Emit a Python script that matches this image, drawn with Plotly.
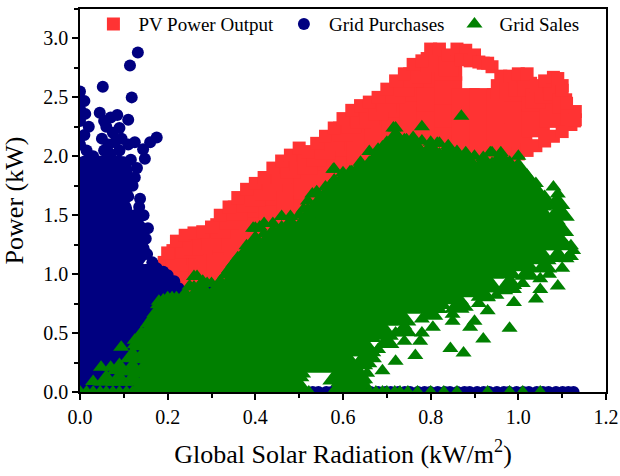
import plotly.graph_objects as go

# ------------------------------------------------------------------ data
# PV Power Output (kW) vs global solar radiation (kW/m2)
pv_top = [(0.16,1.03),(0.18,1.06),(0.20,1.18),(0.22,1.28),(0.24,1.33),(0.26,1.35),(0.28,1.36),
          (0.30,1.40),(0.32,1.50),(0.34,1.57),(0.36,1.65),(0.38,1.72),(0.40,1.77),(0.42,1.82),
          (0.44,1.90),(0.46,1.96),(0.48,2.01),(0.50,2.07),(0.52,2.04),(0.54,2.11),(0.56,2.17),
          (0.58,2.24),(0.60,2.32),(0.62,2.39),(0.64,2.43),(0.66,2.46),(0.68,2.50),(0.70,2.57),
          (0.72,2.64),(0.74,2.70),(0.76,2.78),(0.78,2.81),(0.80,2.91),(0.82,2.91),(0.84,2.86),
          (0.86,2.91),(0.88,2.90),(0.90,2.86),(0.92,2.79),(0.94,2.76),(0.96,2.68),(0.98,2.68),
          (1.00,2.70),(1.02,2.70),(1.04,2.60),(1.06,2.64),(1.08,2.67),(1.10,2.56),(1.12,2.36),
          (0.87,2.82),(0.89,2.81),(0.91,2.80),(0.93,2.79),
          (0.98,1.99),(1.00,2.02),(1.02,2.05),(1.04,2.09),(1.06,2.13),(1.08,2.17),(1.10,2.21),
          (1.12,2.27),(1.13,2.31),(1.13,2.38),(1.11,2.45),(1.10,2.60),(1.09,2.66),
          (0.17,0.92),(0.19,0.90),(0.21,0.92),(0.26,0.90),(0.30,0.90),(0.33,0.93)]
pv_mid = [(0.16,0.94),(0.18,0.95),(0.20,1.07),(0.22,1.17),(0.24,1.22),(0.26,1.24),(0.28,1.25),
          (0.30,1.29),(0.32,1.39),(0.34,1.46),(0.36,1.54),(0.38,1.61),(0.40,1.66),(0.42,1.71),
          (0.44,1.79),(0.46,1.85),(0.48,1.90),(0.50,1.96),(0.52,1.93),(0.54,2.00),(0.56,2.06),
          (0.58,2.13),(0.60,2.21),(0.62,2.28),(0.64,2.32),(0.66,2.35),(0.68,2.39),(0.70,2.46),
          (0.72,2.53),(0.74,2.59),(0.76,2.67),(0.78,2.70),(0.80,2.80),(0.82,2.80),(0.84,2.76),
          (0.96,2.57),(0.98,2.57),(1.00,2.59),(1.02,2.59),(1.04,2.49),(1.06,2.53),(1.08,2.56),
          (1.10,2.45),(1.12,2.33)]
pv_core_x = [0.20, 0.24, 0.28, 0.32, 0.36, 0.40, 0.44, 0.48, 0.52, 0.56, 0.60, 0.64,
             0.68, 0.72, 0.76, 0.80, 0.84, 0.88, 0.92, 0.96, 1.00, 1.04, 1.08]
pv_core_y = [[0.93], [0.94, 1.14], [0.90, 1.05, 1.25], [0.92, 1.10, 1.30], [1.05, 1.25, 1.45],
             [1.20, 1.40, 1.60], [1.30, 1.50, 1.70], [1.45, 1.65, 1.85], [1.55, 1.75, 1.95],
             [1.60, 1.80, 2.00], [1.75, 1.92, 2.12], [1.86, 2.06, 2.26], [1.95, 2.15, 2.35],
             [2.05, 2.25, 2.45], [2.18, 2.38, 2.58], [2.10, 2.30, 2.50, 2.70],
             [2.16, 2.36, 2.56, 2.76], [2.06, 2.26, 2.46], [2.06, 2.26, 2.46], [2.06, 2.26, 2.46],
             [2.16, 2.38, 2.58], [2.28, 2.50], [2.36]]

# Grid Purchases (kW)
gp_core_x = [0.015, 0.05, 0.085, 0.12, 0.155, 0.19]
gp_core_y = [[0.10, 0.28, 0.46, 0.64, 0.82, 1.00, 1.18, 1.36, 1.54, 1.72, 1.88],
             [0.10, 0.28, 0.46, 0.64, 0.82, 1.00, 1.18, 1.36, 1.54, 1.72, 1.88],
             [0.10, 0.28, 0.46, 0.64, 0.82, 1.00, 1.18, 1.36, 1.54, 1.72, 1.88],
             [0.10, 0.28, 0.46, 0.64, 0.82, 1.00, 1.18, 1.36],
             [0.10, 0.28, 0.46, 0.64, 0.82, 0.96],
             [0.70, 0.84]]
gp_pts = [(0.0,2.55),(0.01,2.47),(0.0,2.40),(0.012,2.36),(0.0,2.30),(0.02,2.25),(0.01,2.18),
          (0.0,2.10),(0.015,2.05),(0.03,2.00),(0.045,2.37),(0.055,2.30),(0.07,2.33),(0.085,2.35),
          (0.06,2.25),(0.075,2.20),(0.09,2.24),(0.11,2.31),(0.05,2.15),(0.065,2.10),(0.08,2.12),
          (0.095,2.15),(0.055,2.05),(0.07,2.02),(0.09,2.05),(0.11,2.10),(0.125,2.12),(0.144,2.06),
          (0.16,2.12),(0.175,2.16),(0.148,1.98),(0.116,1.97),(0.10,1.95),(0.08,1.95),(0.045,1.95),
          (0.03,1.92),(0.13,1.90),(0.118,2.50),(0.052,2.59),(0.114,2.77),(0.132,2.88),
          (0.125,1.82),(0.12,1.75),(0.137,1.64),(0.135,1.57),(0.145,1.50),(0.155,1.39),
          (0.15,1.30),(0.145,1.22),(0.153,1.17),(0.165,1.10),(0.175,1.05),(0.19,1.02),
          (0.20,0.99),(0.215,0.94),(0.225,0.88),(0.235,0.83),(0.30,0.88),(0.29,0.82),(0.31,0.75),
          (0.25,0.58),(0.167,0.33),(0.11,1.66),(0.11,1.80),(0.125,1.50),(0.13,1.42)]
gp_zero_x = [0.50,0.513,0.531,0.544,0.562,0.574,0.59,0.607,0.618,0.636,0.651,0.663,0.68,
             0.697,0.709,0.726,0.741,0.753,0.771,0.786,0.799,0.816,0.832,0.844,0.861,0.877,
             0.889,0.906,0.921,0.934,0.951,0.967,0.979,0.996,1.011,1.024,1.042,1.056,1.069,
             1.086,1.101,1.114,1.126]

# Grid Sales (kW)
gs_core_x = [0.16, 0.20, 0.24, 0.28, 0.32, 0.36, 0.40, 0.44, 0.48, 0.52, 0.56, 0.60, 0.64,
             0.68, 0.72, 0.76, 0.80, 0.84, 0.88, 0.92, 0.96, 1.00, 1.04, 1.08]
gs_core_y = [[0.08,0.20,0.32,0.44],
             [0.08,0.20,0.32,0.44,0.56,0.68],
             [0.08,0.20,0.32,0.44,0.56,0.68,0.74],
             [0.08,0.20,0.32,0.44,0.56,0.68,0.80],
             [0.08,0.20,0.32,0.44,0.56,0.68,0.80,0.84],
             [0.08,0.20,0.32,0.44,0.56,0.68,0.80,0.92,1.04],
             [0.08,0.20,0.32,0.44,0.56,0.68,0.80,0.92,1.04,1.16,1.22],
             [0.08,0.20,0.32,0.44,0.56,0.68,0.80,0.92,1.04,1.16,1.28],
             [0.08,0.20,0.32,0.44,0.56,0.68,0.80,0.92,1.04,1.16,1.28,1.36],
             [0.26,0.38,0.50,0.62,0.74,0.86,0.98,1.10,1.22,1.34,1.42],
             [0.24,0.36,0.48,0.60,0.72,0.84,0.96,1.08,1.20,1.32,1.44,1.56,1.60],
             [0.14,0.26,0.38,0.50,0.62,0.74,0.86,0.98,1.10,1.22,1.34,1.46,1.58,1.70,1.74],
             [0.38,0.50,0.62,0.74,0.86,0.98,1.10,1.22,1.34,1.46,1.58,1.70,1.82,1.84],
             [0.52,0.64,0.76,0.88,1.00,1.12,1.24,1.36,1.48,1.60,1.72,1.84,1.94],
             [0.64,0.76,0.88,1.00,1.12,1.24,1.36,1.48,1.60,1.72,1.84,1.96,2.08,2.10],
             [0.74,0.86,0.98,1.10,1.22,1.34,1.46,1.58,1.70,1.82,1.94,2.04],
             [0.78,0.90,1.02,1.14,1.26,1.38,1.50,1.62,1.74,1.86,1.98,2.00],
             [0.82,0.94,1.06,1.18,1.30,1.42,1.54,1.66,1.78,1.90,1.98],
             [0.88,1.00,1.12,1.24,1.36,1.48,1.60,1.72,1.84,1.92],
             [0.92,1.04,1.16,1.28,1.40,1.52,1.64,1.76,1.88],
             [1.04,1.16,1.28,1.40,1.52,1.64,1.76,1.88,1.92],
             [1.10,1.22,1.34,1.46,1.58,1.70,1.82,1.84],
             [1.16,1.28,1.40,1.52,1.64],
             [1.28,1.40]]
gs_mid = [(0.06,0.10),(0.09,0.10),(0.09,0.20),(0.12,0.10),(0.12,0.20),(0.12,0.30),(0.15,0.10),
          (0.15,0.20),(0.15,0.30),(0.15,0.40),(0.15,0.48),(0.18,0.30),(0.18,0.40),(0.18,0.50),
          (0.18,0.60),(0.18,0.68),(0.21,0.50),(0.21,0.60),(0.21,0.70),(0.21,0.76),(0.24,0.60),
          (0.24,0.70),(0.24,0.78),(0.27,0.75),(0.27,0.85),(0.30,0.78),(0.34,0.90),(0.38,1.10),
          (0.60,0.06),(0.61,0.14),(0.63,0.12),(0.64,0.24),(0.66,0.30),(0.70,0.42),(0.74,0.52),
          (0.80,0.66),(0.86,0.72),(0.92,0.82),(0.98,0.92),(1.02,1.00),(1.06,1.06),(1.09,1.15),
          (1.10,1.50),(1.09,1.60),(0.625,0.05),(0.64,0.12)]
gs_top = [(0.125,0.40),(0.14,0.50),(0.16,0.60),(0.18,0.77),(0.20,0.80),(0.22,0.80),(0.24,0.84),
          (0.26,0.98),(0.28,0.94),(0.30,0.92),(0.32,0.94),(0.34,1.04),(0.36,1.14),(0.38,1.24),
          (0.40,1.39),(0.42,1.43),(0.44,1.43),(0.46,1.49),(0.48,1.49),(0.50,1.50),(0.51,1.55),
          (0.52,1.62),(0.53,1.68),(0.54,1.70),(0.56,1.74),(0.58,1.89),(0.60,1.86),(0.62,1.87),
          (0.64,1.95),(0.66,2.04),(0.68,2.06),(0.70,2.12),(0.72,2.24),(0.74,2.14),(0.76,2.16),
          (0.78,2.25),(0.80,2.12),(0.82,2.11),(0.84,2.09),(0.86,2.04),(0.87,2.34),(0.88,2.03),
          (0.90,2.00),(0.92,1.99),(0.94,2.03),(0.96,2.03),(0.98,1.95),(1.00,2.00),(1.02,1.84),
          (1.04,1.77),(1.06,1.66),(1.08,1.74),(1.10,1.38),(1.12,1.24)]
gs_second = [(0.14,0.41),(0.16,0.51),(0.18,0.68),(0.20,0.71),(0.22,0.71),(0.24,0.75),(0.26,0.89),
             (0.28,0.85),(0.30,0.83),(0.32,0.85),(0.34,0.95),(0.36,1.05),(0.38,1.15),(0.40,1.30),
             (0.42,1.34),(0.44,1.34),(0.46,1.40),(0.48,1.40),(0.50,1.41),(0.52,1.55),(0.54,1.61),
             (0.56,1.65),(0.58,1.80),(0.60,1.77),(0.62,1.78),(0.64,1.86),(0.66,1.95),(0.68,1.97),
             (0.70,2.03),(0.72,2.12),(0.74,2.05),(0.76,2.07),(0.78,2.13),(0.80,2.03),(0.82,2.02),
             (0.84,2.00),(0.86,1.95),(0.88,1.94),(0.90,1.91),(0.92,1.90),(0.94,1.94),(0.96,1.94),
             (0.98,1.86),(1.00,1.90),(1.02,1.75),(1.04,1.68),(1.06,1.57),(1.08,1.60),(1.10,1.29),
             (1.12,1.15)]
gs_scatter = [(0.03,0.09),(0.048,0.21),(0.07,0.21),(0.094,0.38),(0.11,0.17),(0.085,0.12),
              (0.125,0.44),(0.14,0.50),(0.155,0.58),(0.165,0.63),(0.178,0.74),(0.19,0.78),
              (0.228,0.77),(0.21,0.80),(0.25,0.90),(0.267,0.98),(0.29,0.92),(0.35,1.09),
              (0.395,1.39),(0.41,1.40),(0.57,1.75),(0.578,1.89),(0.616,1.87),(0.69,2.08),
              (0.715,2.24),(0.73,2.14),(0.745,2.14),(0.815,2.11),(0.936,2.03),(1.03,1.77),
              (1.05,1.66),(1.065,1.60),(1.08,1.50),(1.09,1.68),(1.09,1.55),(1.09,1.62),
              (1.10,1.38),(1.09,1.45),(1.11,1.24),(1.125,1.20),(1.11,1.13),(1.09,1.25),
              (1.10,1.05),(1.09,0.90),(1.07,1.00),(1.05,0.96),(1.04,0.79),(1.05,0.87),
              (1.01,0.92),(0.99,0.87),(0.99,0.76),(0.97,0.86),(0.98,0.54),(0.95,0.82),
              (0.93,0.80),(0.93,0.69),(0.91,0.75),(0.92,0.45),(0.90,0.60),(0.89,0.55),
              (0.88,0.72),(0.875,0.33),(0.845,0.37),(0.85,0.60),(0.85,0.66),(0.82,0.70),
              (0.805,0.55),(0.80,0.68),(0.78,0.50),(0.78,0.62),(0.776,0.43),(0.74,0.43),
              (0.74,0.56),(0.765,0.31),(0.72,0.26),(0.72,0.50),(0.70,0.42),(0.69,0.18),
              (0.68,0.36),(0.66,0.24),(0.66,0.32),(0.64,0.16),(0.62,0.14),(0.63,0.08),
              (0.65,0.06),(0.61,0.04),(0.59,0.08),(0.505,0.12),(0.51,0.20),(0.50,0.05),
              (0.645,0.10),(0.64,0.04),(0.625,0.20),(0.605,0.20),(0.655,0.16),(0.60,0.12)]
gs_zero_x = [0.0,0.015,0.03,0.046,0.06,0.075,0.09,0.106,0.12,0.135,0.15,0.166,0.18,0.195,0.21,
             0.226,0.24,0.256,0.27,0.285,0.30,0.316,0.33,0.346,0.36,0.376,0.39,0.406,0.42,0.436,
             0.45,0.466,0.48,0.496,0.51,0.522,0.578,0.592,0.606,0.62,0.634,0.648,0.66,0.675,
             0.69,0.70,0.718,0.73,0.748,0.77,0.80,0.83,0.86,0.93,0.98,1.01,1.05]

x_ticks = [0.0, 0.2, 0.4, 0.6, 0.8, 1.0, 1.2]
y_ticks = [0.0, 0.5, 1.0, 1.5, 2.0, 2.5, 3.0]

# ------------------------------------------------------------------ helpers
def cols(xs, yss):
    ox, oy = [], []
    for x, ys in zip(xs, yss):
        for y in ys:
            ox.append(x)
            oy.append(y)
    return ox, oy

def pts(lst):
    return [p[0] for p in lst], [p[1] for p in lst]

RED, NAVY, GREEN = "#FF3333", "#000080", "#008000"
FONT = "Liberation Serif"

fig = go.Figure()

def add(x, y, color, symbol, size, name, show, rank):
    fig.add_trace(go.Scatter(
        x=x, y=y, mode="markers", name=name, legendgroup=name, showlegend=show,
        legendrank=rank,
        marker=dict(color=color, symbol=symbol, size=size, line=dict(width=0)),
        hoverinfo="skip"))

# PV Power Output
cx, cy = cols(pv_core_x, pv_core_y)
add(cx, cy, RED, "square", 28, "PV Power Output", False, 1)
mx, my = pts(pv_mid)
add(mx, my, RED, "square", 20, "PV Power Output", False, 1)
tx, ty = pts(pv_top)
add(tx, ty, RED, "square", 13, "PV Power Output", True, 1)

# Grid Purchases
cx, cy = cols(gp_core_x, gp_core_y)
add(cx, cy, NAVY, "circle", 30, "Grid Purchases", False, 2)
px_, py_ = pts(gp_pts)
px_ += gp_zero_x
py_ += [0.0] * len(gp_zero_x)
add(px_, py_, NAVY, "circle", 12, "Grid Purchases", True, 2)

# Grid Sales
cx, cy = cols(gs_core_x, gs_core_y)
add(cx, cy, GREEN, "triangle-up", 36, "Grid Sales", False, 3)
mx, my = pts(gs_mid)
add(mx, my, GREEN, "triangle-up", 22, "Grid Sales", False, 3)
ex, ey = pts(gs_top + gs_second + gs_scatter)
ex += gs_zero_x
ey += [0.0] * len(gs_zero_x)
add(ex, ey, GREEN, "triangle-up", 14, "Grid Sales", True, 3)

axis_common = dict(
    showgrid=False, zeroline=False, showline=True, linecolor="black", linewidth=1.5,
    mirror=True, ticks="outside", ticklen=6, tickwidth=1.5, tickcolor="black",
    tickfont=dict(family=FONT, size=20, color="black"), automargin=False,
)
fig.update_layout(
    width=620, height=476,
    margin=dict(l=80, r=14, t=5, b=84),
    paper_bgcolor="white", plot_bgcolor="white",
    font=dict(family=FONT, color="black", size=19),
    xaxis=dict(range=[0, 1.2], tickvals=x_ticks, ticktext=[f"{v:.1f}" for v in x_ticks],
               minor=dict(dtick=0.1, tick0=0, ticks="outside", ticklen=4, tickcolor="black",
                          tickwidth=1.5),
               title=dict(text="Global Solar Radiation (kW/m<sup>2</sup>)",
                          font=dict(family=FONT, size=26, color="black"), standoff=18),
               **axis_common),
    yaxis=dict(range=[0, 3.25], tickvals=y_ticks, ticktext=[f"{v:.1f}" for v in y_ticks],
               minor=dict(dtick=0.25, tick0=0, ticks="outside", ticklen=4, tickcolor="black",
                          tickwidth=1.5),
               title=dict(text="Power (kW)", font=dict(family=FONT, size=26, color="black"),
                          standoff=14),
               **axis_common),
    legend=dict(orientation="h", x=0.016, xanchor="left", y=1.01, yanchor="top",
                bgcolor="rgba(0,0,0,0)", font=dict(family=FONT, size=19, color="black"),
                itemwidth=40),
    showlegend=True,
)

# the figure is exactly the window size, so drop the page's default 8 px body margin
fig.write_html("out.html",
               config={"displayModeBar": False},
               post_script="document.body.style.margin='0px';document.body.style.overflow='hidden';")
